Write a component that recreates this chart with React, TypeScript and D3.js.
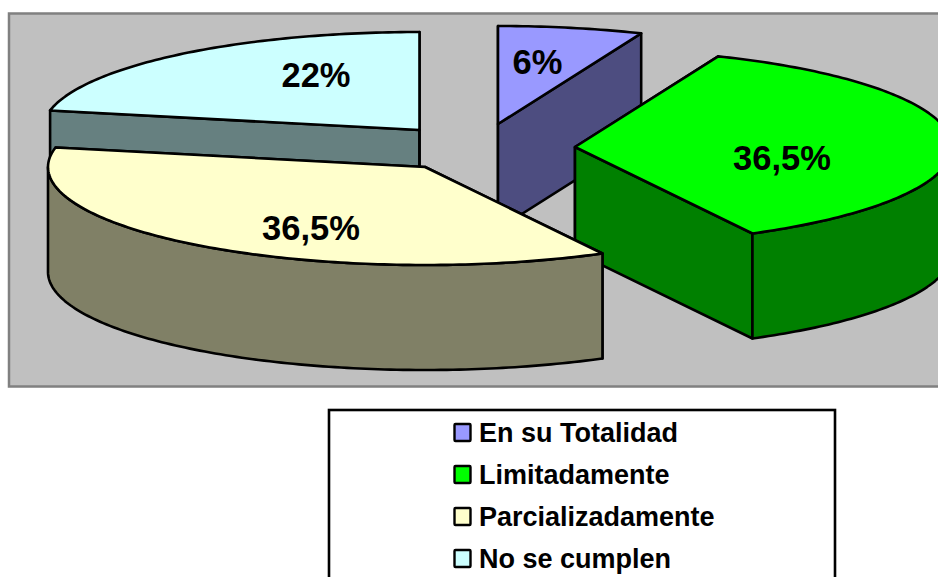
import React from "react";
import * as d3 from "d3";

const categories = ["En su Totalidad", "Limitadamente", "Parcializadamente", "No se cumplen"];
const values = [6.2, 36, 36, 21.8];
const valueLabels = ["6%", "36,5%", "36,5%", "22%"];
const topColors = ["#9999FF", "#00FF00", "#FFFFCC", "#CCFFFF"];
const sideColors = ["#4D4D80", "#008000", "#808066", "#668080"];
const apexX = [498, 575, 425, 419.5];
const apexY = [124, 147, 167, 130];
const labelX = [537.5, 782, 311, 316];
const labelY = [74, 170, 240, 87];
const paintOrder = [0, 3, 1, 2];

const W = 938;
const H = 577;
const RX = 377;
const RY = 98;
const DEPTH = 105;
const FONT = "'Liberation Sans', Arial, sans-serif";

const pieGen = d3.pie<number>().sort(null).startAngle(0).endAngle(2 * Math.PI);
const line = d3.line<[number, number]>();

type P = [number, number];
const rim = (i: number, a: number, dy = 0): P => [
  apexX[i] + RX * Math.sin(a),
  apexY[i] - RY * Math.cos(a) + dy,
];
const arcPts = (i: number, a0: number, a1: number, dy = 0): P[] => {
  const n = Math.max(2, Math.ceil(Math.abs(a1 - a0) * 60));
  return d3.range(n + 1).map((k) => rim(i, a0 + ((a1 - a0) * k) / n, dy));
};

export default function App() {
  const arcs = pieGen(values);
  return (
    <svg
      width={W}
      height={H}
      viewBox={`0 0 ${W} ${H}`}
      style={{ position: "fixed", left: 0, top: 0, display: "block", background: "#fff" }}
    >
      <rect x={9} y={13.5} width={W + 20} height={373} fill="#C0C0C0" stroke="#808080" strokeWidth={2.5} />
      {paintOrder.map((i) => {
        const { startAngle: a0, endAngle: a1 } = arcs[i];
        const apex: P = [apexX[i], apexY[i]];
        const wall = (a: number) => {
          const e = rim(i, a);
          const pts: P[] = [apex, e, [e[0], e[1] + DEPTH], [apex[0], apex[1] + DEPTH]];
          return line(pts)! + "Z";
        };
        const lo = Math.max(a0, Math.PI / 2);
        const hi = Math.min(a1, (3 * Math.PI) / 2);
        const outer =
          hi > lo
            ? line([...arcPts(i, lo, hi), ...arcPts(i, hi, lo, DEPTH)])! + "Z"
            : null;
        const top = line([apex, ...arcPts(i, a0, a1)])! + "Z";
        const common = { stroke: "#000", strokeWidth: 2.6, strokeLinejoin: "round" as const };
        return (
          <g key={categories[i]}>
            <path d={wall(a0)} fill={sideColors[i]} {...common} />
            <path d={wall(a1)} fill={sideColors[i]} {...common} />
            {outer && <path d={outer} fill={sideColors[i]} {...common} />}
            <path d={top} fill={topColors[i]} {...common} />
          </g>
        );
      })}
      {valueLabels.map((t, i) => (
        <text
          key={i}
          x={labelX[i]}
          y={labelY[i]}
          textAnchor="middle"
          fontFamily={FONT}
          fontWeight="bold"
          fontSize={34.5}
          fill="#000"
        >
          {t}
        </text>
      ))}
      <rect x={329} y={410} width={506} height={H} fill="#fff" stroke="#000" strokeWidth={2.6} />
      {categories.map((c, i) => (
        <g key={c}>
          <rect
            x={454.5}
            y={424 + i * 42}
            width={16}
            height={17}
            rx={1}
            fill={topColors[i]}
            stroke="#000"
            strokeWidth={2.4}
          />
          <text x={479} y={442 + i * 42} fontFamily={FONT} fontWeight="bold" fontSize={27} fill="#000">
            {c}
          </text>
        </g>
      ))}
    </svg>
  );
}
